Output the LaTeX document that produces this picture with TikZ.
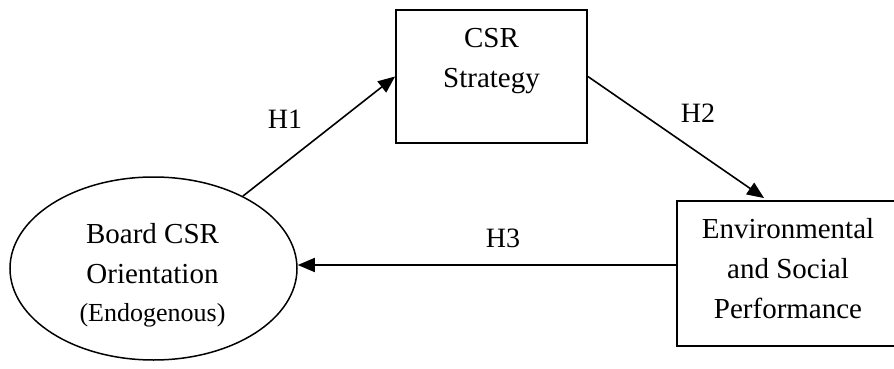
\documentclass[tikz,border=0pt]{standalone}
\usepackage{fontspec}
\setmainfont{Liberation Serif}
\usetikzlibrary{arrows.meta,shapes.geometric}
\begin{document}
\begin{tikzpicture}[x=1pt,y=-1pt,
  boxstyle/.style={draw,line width=1.8pt,rectangle,inner sep=0pt},
  ellstyle/.style={draw,line width=1.5pt,ellipse,inner sep=0pt},
  txt/.style={inner sep=0pt,align=center,font=\fontsize{29}{40}\selectfont},
  hlab/.style={inner sep=0pt,anchor=base,font=\fontsize{28}{33}\selectfont},
  conn/.style={line width=1.6pt,-{Triangle[length=17pt,width=14pt]}}]
\useasboundingbox (0,0) rectangle (894,369);
% nodes
\node[ellstyle,minimum width=287pt,minimum height=183pt] (ell) at (153.5,268.5) {};
\node[boxstyle,minimum width=191pt,minimum height=133pt] (csr) at (491.5,76.5) {};
\node[boxstyle,minimum width=220pt,minimum height=145pt] (env) at (787,273.5) {};
% texts
\node[txt,anchor=north] (elltext) at (152.5,223.5) {Board CSR\\Orientation\\[-2pt]{\fontsize{26}{35}\selectfont (Endogenous)}};
\node[txt,anchor=north] (csrtext) at (491.5,27.7) {CSR\\Strategy};
\node[txt,anchor=north] (envtext) at (788,218.5) {Environmental\\and Social\\Performance};
% connectors
\draw[conn] (ell.39) -- (csr.west);
\draw[conn] (csr.east) -- ([xshift=88pt,yshift=2pt]env.north west);
\draw[conn] ([yshift=8.5pt]env.west) -- ([yshift=8.5pt]env.west -| ell.east);
% labels
\node[hlab] (h1) at (285,128) {H1};
\node[hlab] (h2) at (698,122) {H2};
\node[hlab] (h3) at (503,247) {H3};
\end{tikzpicture}
\end{document}
